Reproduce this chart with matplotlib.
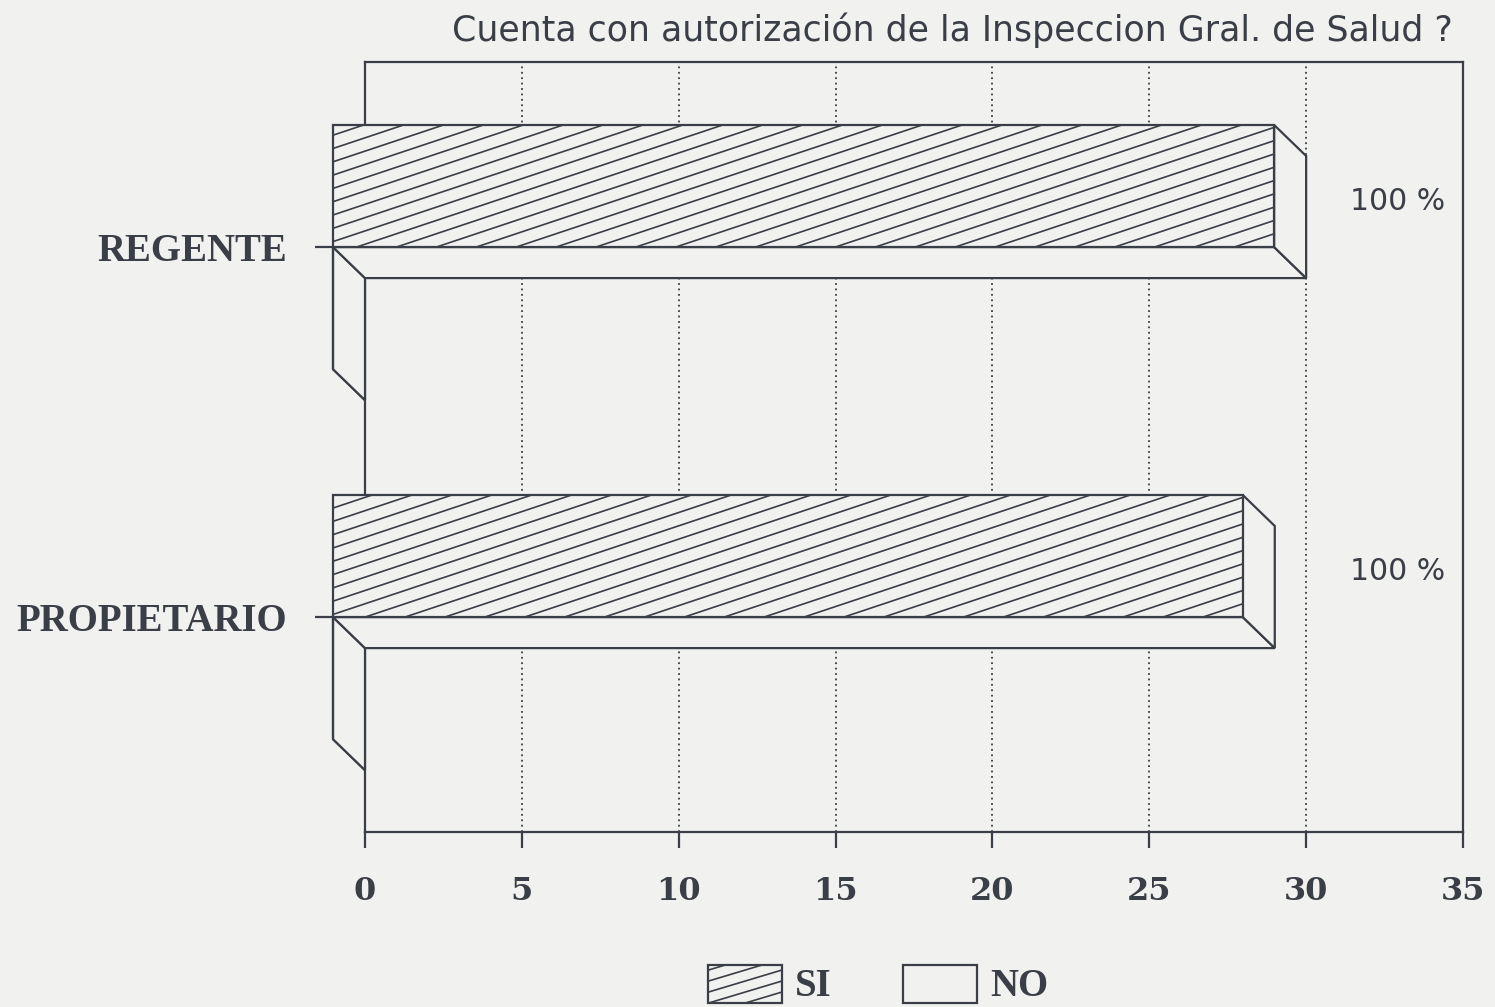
import numpy as np
import matplotlib
matplotlib.use('Agg')
import matplotlib.pyplot as plt
from matplotlib.patches import Polygon, Rectangle
from matplotlib.collections import LineCollection
from matplotlib.transforms import IdentityTransform

# ---------------- data ----------------
categories = ["PROPIETARIO", "REGENTE"]
si_values = [29, 30]
no_values = [0, 0]
pct_labels = ["100 %", "100 %"]
xticks = [0, 5, 10, 15, 20, 25, 30, 35]
series_names = ["SI", "NO"]
title = "Cuenta con autorización de la Inspeccion Gral. de Salud ?"

# ---------------- style ----------------
INK = '#3a3e46'
BG = '#f1f1ef'
W, H = 1495, 1007
DPI = 100
SERIF_B = dict(family='Liberation Serif', weight='bold')
TICK_F = dict(family='DejaVu Serif', weight='bold')
LW = 1.6

fig = plt.figure(figsize=(W / DPI, H / DPI), dpi=DPI, facecolor=BG)
ax = fig.add_axes([365 / W, 1 - 832 / H, (1463 - 365) / W, (832 - 62) / H])
ax.set_facecolor(BG)
ax.set_xlim(0, 35)
ax.set_ylim(-0.497, 1.584)

# 3D depth offset (pixels -> data units)
depth_px = np.array([-32.0, 31.0])
inv = ax.transData.inverted()
o = ax.transData.transform((0, 0))
ddx, ddy = inv.transform(o + depth_px) - inv.transform(o)

bar_h = 0.33


def hatch_patch(patch, container, spacing=13.3, slope=1 / 3, lw=1.2, z=None):
    verts = patch.get_transform().transform(patch.get_path().vertices)
    x0, y0 = verts.min(0)
    x1, y1 = verts.max(0)
    span = x1 - x0
    cs = np.arange(y0 - slope * span - spacing, y1 + spacing, spacing)
    segs = [[(x0, c), (x1, c + slope * span)] for c in cs]
    lc = LineCollection(segs, colors=INK, linewidths=lw,
                        transform=IdentityTransform(),
                        zorder=(patch.get_zorder() + 0.05) if z is None else z)
    lc.set_clip_path(patch)
    container.add_artist(lc)


def draw_bar(v, y0, y1, hatched):
    kw = dict(closed=True, fc=BG, ec=INK, lw=LW, clip_on=False, joinstyle='miter')
    bottom = Polygon([(ddx, y0 + ddy), (v + ddx, y0 + ddy), (v, y0), (0, y0)], zorder=4, **kw)
    side = Polygon([(v + ddx, y0 + ddy), (v + ddx, y1 + ddy), (v, y1), (v, y0)], zorder=4, **kw)
    front = Polygon([(ddx, y0 + ddy), (v + ddx, y0 + ddy), (v + ddx, y1 + ddy), (ddx, y1 + ddy)],
                    zorder=5, **kw)
    for p in (bottom, side, front):
        ax.add_patch(p)
    if hatched and v > 0:
        hatch_patch(front, ax)


ypos = np.arange(len(categories))
for yc, s, n in zip(ypos, si_values, no_values):
    draw_bar(n, yc - bar_h, yc, hatched=False)
    draw_bar(s, yc, yc + bar_h, hatched=True)

for yc, lab in zip(ypos, pct_labels):
    ax.text(32.9, yc + bar_h / 2 + ddy / 2, lab, ha='center', va='center',
            fontsize=21.5, family='DejaVu Sans', color=INK)

# axes styling
for sp in ax.spines.values():
    sp.set_color(INK)
    sp.set_linewidth(LW)
ax.set_axisbelow(True)
ax.xaxis.grid(True, linestyle=(0, (1, 2)), color=INK, linewidth=1.3)
ax.set_xticks(xticks)
ax.set_xticklabels([str(t) for t in xticks], fontdict=dict(TICK_F, size=23), color=INK)
ax.tick_params(axis='x', direction='out', length=11.5, width=LW, color=INK, pad=20)
ax.set_yticks(ypos + ddy)
ax.set_yticklabels(categories, fontdict=dict(SERIF_B, size=28), color=INK)
ax.tick_params(axis='y', direction='out', length=36, width=LW, color=INK, pad=20)

# title
fig.text(1453 / W, 1 - 30 / H, title, ha='right', va='center', fontsize=25,
         family='DejaVu Sans', color=INK)

# legend (manual)
def fig_rect(xpx, ypx, wpx, hpx):
    return Rectangle((xpx / W, 1 - (ypx + hpx) / H), wpx / W, hpx / H,
                     transform=fig.transFigure, fc=BG, ec=INK, lw=LW, zorder=5)

r1 = fig_rect(708, 965, 74, 38)
fig.add_artist(r1)
hatch_patch(r1, fig, spacing=11, slope=0.3, z=6)
fig.text(795 / W, 1 - 986 / H, series_names[0], ha='left', va='center',
         fontsize=28, color=INK, **SERIF_B)
r2 = fig_rect(903, 965, 74, 38)
fig.add_artist(r2)
fig.text(990 / W, 1 - 986 / H, series_names[1], ha='left', va='center',
         fontsize=28, color=INK, **SERIF_B)

fig.savefig('out.png', dpi=DPI, facecolor=BG)
